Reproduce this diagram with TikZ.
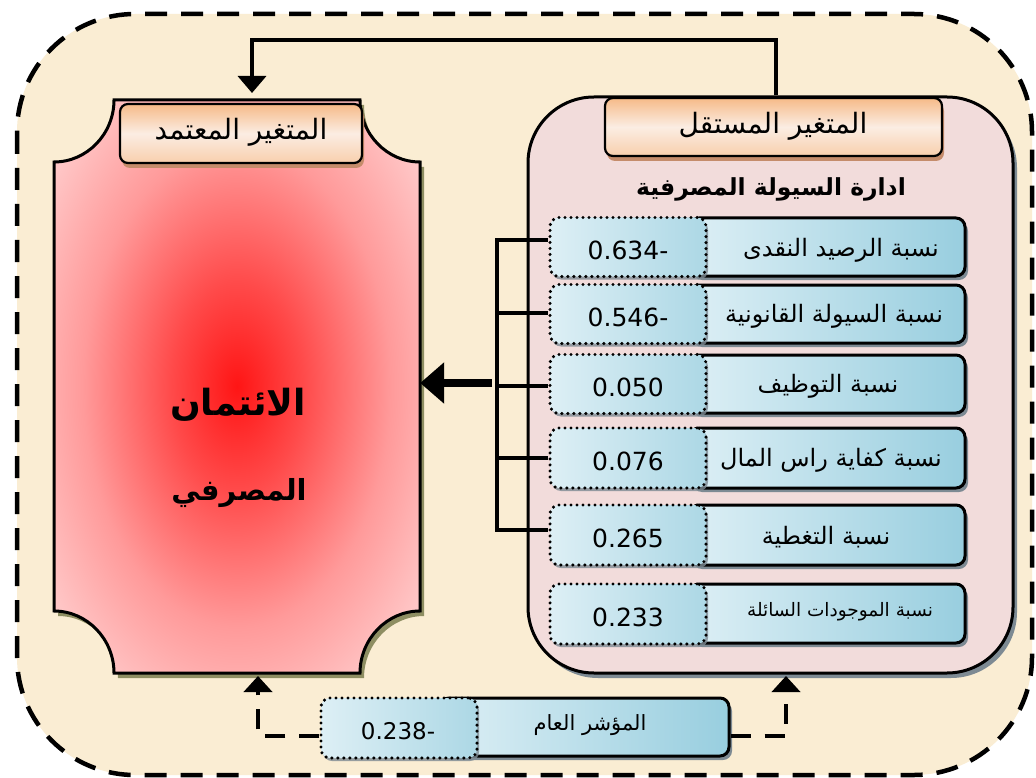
\documentclass[tikz,border=0pt]{standalone}
\usepackage{fontspec}
\usetikzlibrary{shadows,arrows.meta}
\newfontfamily\ar[Script=Arabic]{DejaVu Sans}
\newfontfamily\num{DejaVu Sans}
\TeXXeTstate=1
\definecolor{cream}{HTML}{FAEDD3}
\definecolor{indfill}{HTML}{F2DCDB}
\definecolor{pinkout}{HTML}{FFC6C6}
\definecolor{glowred}{HTML}{FF1515}
\definecolor{glowmid}{HTML}{FF4A4A}
\definecolor{glowlt}{HTML}{FF9A9A}
\definecolor{olivesh}{HTML}{8E8E62}
\definecolor{bluelt}{HTML}{DDEFF5}
\definecolor{bluedk}{HTML}{98CEDF}
\definecolor{orgdk}{HTML}{F6BA88}
\definecolor{orglt}{HTML}{FBEDE3}
\definecolor{brownsh}{HTML}{C58C6B}
\definecolor{graysh}{HTML}{7D8A93}
\pgfdeclareradialshading{redglow}{\pgfpoint{0bp}{0bp}}{color(0bp)=(glowred); color(9bp)=(glowmid); color(21bp)=(glowlt); color(31bp)=(pinkout); color(50bp)=(pinkout)}
\tikzset{
  conn/.style={line width=3.6pt},
  dconn/.style={line width=4pt, dash pattern=on 20pt off 14pt},
  labelbox/.style={draw, line width=2.2pt, rounded corners=8pt, inner sep=0pt,
    top color=orgdk, bottom color=orgdk!60!orglt, middle color=orglt,
    drop shadow={shadow xshift=2pt, shadow yshift=-5pt, fill=brownsh, opacity=1}},
  rowbox/.style={draw, line width=3pt, rounded corners=9pt, inner sep=0pt,
    left color=bluelt, right color=bluedk,
    drop shadow={shadow xshift=3pt, shadow yshift=-4pt, fill=graysh, opacity=1}},
  valbox/.style={draw, line width=3.4pt, dash pattern=on 0pt off 6pt, line cap=round,
    rounded corners=9pt, inner sep=0pt, right color=bluedk!80, left color=bluelt,
    drop shadow={shadow xshift=2pt, shadow yshift=-3pt, fill=graysh, opacity=0.8}},
  rowtxt/.style={font=\ar\fontsize{24}{28}\selectfont, inner sep=0pt},
  valtxt/.style={font=\num\fontsize{25}{28}\selectfont, inner sep=0pt},
}
\begin{document}
\begin{tikzpicture}[x=1pt,y=-1pt]
\useasboundingbox (0,0) rectangle (1036,778);
\fill[white] (0,0) rectangle (1036,778);
% outer dashed frame
\draw[fill=cream, line width=4.5pt, dash pattern=on 22pt off 14pt, rounded corners=118pt]
  (17,14) rectangle (1032,775);

% dependent shape
\def\depshape{(114,100) -- (360,100) .. controls (360,134) and (387,162) .. (420,162) -- (420,611) .. controls (387,611) and (360,639) .. (360,673) -- (114,673) .. controls (114,639) and (87,611) .. (54,611) -- (54,162) .. controls (87,162) and (114,134) .. (114,100) -- cycle}
\fill[olivesh, xshift=4pt, yshift=-5pt] \depshape;
\shade[shading=redglow] \depshape;
\draw[line width=3pt, line join=miter] \depshape;
\node[minimum width=366pt, minimum height=573pt, inner sep=0pt] (dep) at (237,386.5) {};

\node[labelbox, minimum width=242pt, minimum height=59pt] (lab2) at (241,133.5) {};
\node[font=\ar\fontsize{28}{32}\selectfont] (lab2t) at (241,132) {\beginR المتغير  المعتمد\endR};

\node[font=\ar\bfseries\fontsize{36}{40}\selectfont] (dt1) at (238,405) {\beginR الائتمان\endR};
\node[font=\ar\bfseries\fontsize{29}{34}\selectfont] (dt2) at (239,493) {\beginR المصرفي\endR};

% independent box
\node[draw, line width=3pt, fill=indfill, rounded corners=66pt, minimum width=485pt, minimum height=576pt,
  drop shadow={shadow xshift=4pt, shadow yshift=-5pt, fill=graysh, opacity=1}] (ind) at (770.5,385) {};
\node[labelbox, minimum width=337pt, minimum height=58pt] (lab1) at (773.5,127) {};
\node[font=\ar\fontsize{28}{32}\selectfont] (lab1t) at (773,126) {\beginR المتغير  المستقل\endR};
\node[font=\ar\bfseries\fontsize{23.5}{26}\selectfont] (title) at (771,189) {\beginR ادارة السيولة المصرفية\endR};

% rows
\node[rowbox, minimum width=275pt, minimum height=58pt] (r1) at (827.5,247) {};
\node[rowbox, minimum width=275pt, minimum height=58pt] (r2) at (827.5,314) {};
\node[rowbox, minimum width=275pt, minimum height=58pt] (r3) at (827.5,384) {};
\node[rowbox, minimum width=275pt, minimum height=60pt] (r4) at (827.5,458) {};
\node[rowbox, minimum width=275pt, minimum height=60pt] (r5) at (827.5,535) {};
\node[rowbox, minimum width=275pt, minimum height=59pt] (r6) at (827.5,613.5) {};
\node[rowtxt] (t1) at (841,250) {\beginR نسبة الرصيد النقدى\endR};
\node[rowtxt] (t2) at (834,316) {\beginR نسبة السيولة القانونية\endR};
\node[rowtxt] (t3) at (828,386) {\beginR نسبة التوظيف\endR};
\node[rowtxt] (t4) at (831,460) {\beginR نسبة كفاية راس المال\endR};
\node[rowtxt] (t5) at (826,537) {\beginR نسبة التغطية\endR};
\node[rowtxt, font=\ar\fontsize{18.5}{22}\selectfont] (t6) at (840,612) {\beginR نسبة الموجودات السائلة\endR};
\node[valbox, minimum width=156pt, minimum height=59pt] (v1) at (628,247) {};
\node[valbox, minimum width=156pt, minimum height=59pt] (v2) at (628,314) {};
\node[valbox, minimum width=156pt, minimum height=59pt] (v3) at (628,384) {};
\node[valbox, minimum width=156pt, minimum height=60pt] (v4) at (628,458) {};
\node[valbox, minimum width=156pt, minimum height=60pt] (v5) at (628,535) {};
\node[valbox, minimum width=156pt, minimum height=60pt] (v6) at (628,614) {};
\node[valtxt] (n1) at (628,250) {0.634-};
\node[valtxt] (n2) at (628,317) {0.546-};
\node[valtxt] (n3) at (628,387) {0.050};
\node[valtxt] (n4) at (628,461) {0.076};
\node[valtxt] (n5) at (628,538) {0.265};
\node[valtxt] (n6) at (628,617) {0.233};

% bracket
\coordinate (b1) at (497,240);
\coordinate (b2) at (497,313);
\coordinate (b3) at (497,386);
\coordinate (b4) at (497,458);
\coordinate (b5) at (497,530);
\draw[conn, line cap=rect] (b1) -- (b5);
\foreach \k in {1,...,5} \draw[conn] (b\k) -- (b\k -| v1.west);
\coordinate (am) at (492,383);
\draw[line width=8pt, -{Triangle[length=24pt,width=40pt]}] (am) -- (am -| dep.east);

% top connector
\coordinate (c0) at (776,95);
\coordinate (c1) at (776,40);
\coordinate (c2) at (252,40);
\coordinate (c3) at (252,93);
\draw[conn, line join=miter, -{Triangle[length=17pt,width=28pt]}] (c0) -- (c1) -- (c2) -- (c3);

% general index
\node[rowbox, minimum width=289pt, minimum height=58pt] (g) at (584.5,727) {};
\node[font=\ar\fontsize{21}{24}\selectfont] (gt) at (590,725) {\beginR المؤشر العام\endR};
\node[valbox, minimum width=156pt, minimum height=60pt] (gv) at (399,728) {};
\node[valtxt, font=\num\fontsize{23}{26}\selectfont] (gn) at (398,731) {0.238-};

\coordinate (d1) at (258,736);
\coordinate (d2) at (258,676);
\coordinate (e1) at (786,736);
\coordinate (e2) at (786,676);
\draw[dconn, line join=miter, -{Triangle[length=16pt,width=28pt]}] (gv.west |- d1) -- (d1) -- (d2);
\draw[dconn, line join=miter, -{Triangle[length=16pt,width=28pt]}] (g.east |- e1) -- (e1) -- (e2);
\end{tikzpicture}
\end{document}
